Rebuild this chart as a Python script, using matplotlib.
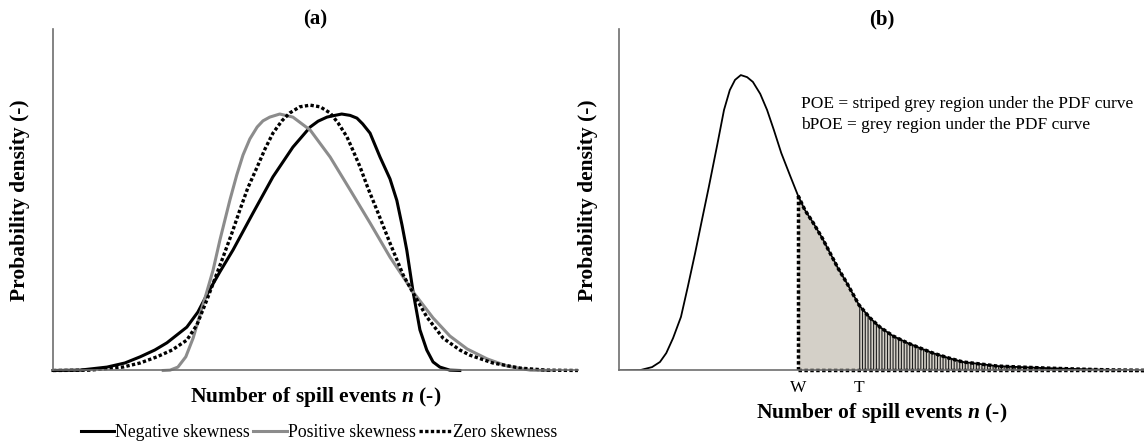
import matplotlib
matplotlib.use("Agg")
import matplotlib.pyplot as plt
import numpy as np

plt.rcParams['font.family'] = ['Liberation Serif', 'DejaVu Serif']
plt.rcParams['mathtext.fontset'] = 'custom'
plt.rcParams['mathtext.it'] = 'Liberation Serif:bold:italic'
plt.rcParams['mathtext.rm'] = 'Liberation Serif:bold'
plt.rcParams['hatch.linewidth'] = 0.8

# (a) PDFs with different skewness (n in arbitrary units, density in % of axis height)
neg_n = [0, 5.1, 10.3, 13.7, 16.6, 19.4, 21.7, 25.5, 27.6, 29.5, 31.8, 34.3, 38.1, 41.9,
         45.7, 49.0, 50.5, 52.2, 53.7, 55.0, 56.6, 57.9, 59.0, 60.4, 62.3, 64.2, 65.5,
         66.5, 67.4, 68.6, 69.9, 71.2, 72.4, 73.7, 75.6, 77.5]
neg_pdf = [0, 0.1, 1.0, 2.2, 4.0, 6.0, 8.1, 12.7, 17.1, 22.7, 28.9, 35.3, 46.1, 56.7,
           65.4, 71.3, 73.0, 74.2, 74.7, 75.1, 74.7, 73.9, 72.2, 69.5, 62.5, 56.1, 49.8,
           42.5, 35.2, 23.0, 11.9, 6.0, 2.5, 1.0, 0.1, 0]

pos_n = [21.0, 22.3, 23.8, 25.3, 26.7, 28.0, 29.3, 30.5, 31.8, 33.7, 35.0, 36.2, 37.5,
         38.9, 40.0, 41.3, 43.2, 45.7, 49.0, 52.8, 56.6, 60.4, 64.2, 68.6, 72.4, 75.6,
         78.9, 82.7, 86.5, 90.9, 94.7]
pos_pdf = [0, 0.1, 1.0, 4.0, 9.5, 16.3, 23.0, 29.4, 38.2, 49.9, 57.2, 63.1, 67.8,
           71.3, 73.1, 74.2, 75.1, 74.2, 70.4, 62.5, 52.9, 43.2, 33.2, 23.0, 15.4, 10.1,
           6.3, 3.4, 1.3, 0.1, 0]

zero_n = [0, 7.0, 13.3, 16.6, 19.8, 22.7, 25.5, 27.4, 29.3, 30.9, 32.4, 34.1, 35.6, 37.1,
          38.9, 40.4, 41.9, 43.6, 45.1, 47.0, 49.0, 50.9, 52.8, 54.3, 56.0, 57.1, 58.5,
          60.0, 61.7, 64.2, 66.7, 68.6, 71.2, 74.3, 77.5, 79.4, 83.8, 89.0, 94.1, 100]
zero_pdf = [0, 0.1, 1.0, 2.2, 4.0, 6.0, 8.9, 13.3, 20.6, 27.1, 33.2, 40.3, 47.0, 53.4,
            59.6, 64.9, 69.5, 73.1, 75.4, 77.2, 77.7, 77.2, 75.4, 72.5, 68.4, 64.6, 59.6,
            53.4, 47.0, 37.3, 28.0, 22.7, 15.7, 9.5, 6.0, 4.5, 2.2, 0.7, 0.1, 0]

# (b) right-skewed PDF with warning (W) and target (T) levels
pdf_n = [0, 4.0, 6.3, 7.8, 9.0, 10.3, 11.8, 13.1, 14.5, 15.8, 17.1, 18.7, 20.0, 21.1,
         22.1, 23.2, 24.4, 25.5, 26.9, 28.2, 29.5, 30.9, 32.6, 34.1, 35.4, 37.0, 38.7,
         40.2, 41.7, 43.4, 45.7, 47.8, 49.7, 52.2, 54.9, 57.3, 59.8, 62.7, 65.5, 68.8,
         72.0, 76.4, 81.5, 87.8, 94.1, 100]
pdf_val = [0, 0.1, 1.0, 2.5, 5.1, 9.5, 15.7, 24.5, 34.4, 44.1, 53.7, 66.0, 76.3, 82.1,
           85.1, 86.5, 85.9, 84.5, 81.0, 76.3, 70.4, 63.7, 57.0, 51.2, 47.0, 43.2, 38.8,
           34.4, 30.0, 25.6, 19.2, 15.4, 12.7, 10.1, 8.1, 6.6, 5.1, 3.7, 2.5, 1.9,
           1.3, 1.0, 0.7, 0.4, 0.15, 0]
w_n = 34.1
t_n = 45.7

legend_labels = ['Negative skewness', 'Positive skewness', 'Zero skewness']
poe_text = ['POE = striped grey region under the PDF curve',
            'bPOE = grey region under the PDF curve']

fig = plt.figure(figsize=(11.44, 4.48), dpi=100)
ax1 = fig.add_axes([0.0463, 0.173, 0.4589, 0.7623])
ax2 = fig.add_axes([0.5411, 0.173, 0.4589, 0.7623])

dots = (0, (1, 0.7))
spine_col = '#6e6e6e'
label_size = 15.5

for ax in (ax1, ax2):
    ax.set_xlim(0, 100)
    ax.set_ylim(0, 100)
    ax.spines[['top', 'right']].set_visible(False)
    for s in ('left', 'bottom'):
        ax.spines[s].set_color(spine_col)
        ax.spines[s].set_linewidth(1.2)
    ax.tick_params(length=0)
    ax.set_yticks([])
    ax.set_ylabel('Probability density (-)', fontsize=label_size, fontweight='bold')
    ax.set_xlabel('Number of spill events $n$ (-)', fontsize=label_size, fontweight='bold')
    ax.xaxis.label.set_va('center')
    ax.yaxis.label.set_va('center')

# panel (a)
ax1.plot(neg_n, neg_pdf, color='black', lw=2.2, label=legend_labels[0], clip_on=False)
ax1.plot(pos_n, pos_pdf, color='#8c8c8c', lw=2.2, label=legend_labels[1], clip_on=False)
ax1.plot(zero_n, zero_pdf, color='black', lw=2.4, ls=dots, label=legend_labels[2], clip_on=False)
ax1.set_xticks([])
ax1.set_title('(a)', fontsize=15, fontweight='bold', pad=3)
ax1.xaxis.set_label_coords(0.5, -0.078)
ax1.yaxis.set_label_coords(-0.063, 0.5)

fig.legend(loc='center', bbox_to_anchor=(0.279, 0.034), ncol=3, frameon=False,
           fontsize=12.7, handlelength=1.9, handletextpad=0.05, columnspacing=0.2)

# panel (b)
x = np.array(pdf_n)
y = np.array(pdf_val)
tail = x >= w_n
beyond_t = x >= t_n
ax2.fill_between(x[tail], y[tail], color='#d4d0c8', lw=0)
ax2.fill_between(x[beyond_t], y[beyond_t], facecolor='#d4d0c8', edgecolor='#1e1e1e',
                 hatch='||||||', lw=0)
ax2.plot(x, y, color='black', lw=1.3)
ax2.plot(x[tail], y[tail], color='black', lw=2.5, ls=dots, clip_on=False)
ax2.plot([w_n, w_n], [0, y[tail][0]], color='black', lw=2.5, ls=dots)
ax2.plot([w_n, 100], [0, 0], color='black', lw=2.5, ls=dots, clip_on=False)
ax2.set_xticks([w_n, t_n], ['W', 'T'], fontsize=12.5)
ax2.tick_params(axis='x', pad=7)
ax2.text(34.7, 78.0, poe_text[0], fontsize=12.5, va='center', ha='left')
ax2.text(34.7, 71.9, poe_text[1], fontsize=12.5, va='center', ha='left')
ax2.set_title('(b)', fontsize=15, fontweight='bold', pad=3)
ax2.xaxis.set_label_coords(0.5, -0.1245)
ax2.yaxis.set_label_coords(-0.059, 0.5)

fig.savefig('out.png', dpi=100)
